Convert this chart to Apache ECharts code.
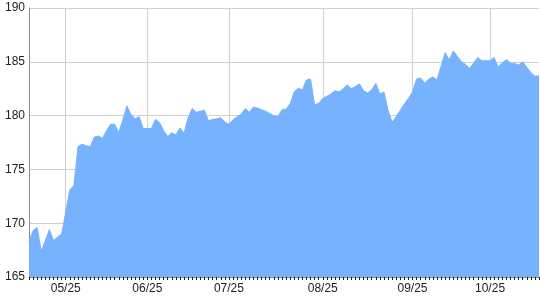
<!DOCTYPE html>
<html>
<head>
<meta charset="utf-8">
<script src="https://cdn.jsdelivr.net/npm/echarts@6/dist/echarts.min.js"></script>
<style>
html,body{margin:0;padding:0;background:#fff;}
#chart{width:540px;height:300px;}
</style>
</head>
<body>
<div id="chart"></div>
<script>
var dates = [
  "2025-04-17","2025-04-21","2025-04-22","2025-04-23","2025-04-24","2025-04-25","2025-04-28","2025-04-29","2025-04-30",
  "2025-05-01","2025-05-02","2025-05-05","2025-05-06","2025-05-07","2025-05-08","2025-05-09","2025-05-12","2025-05-13","2025-05-14",
  "2025-05-15","2025-05-16","2025-05-19","2025-05-20","2025-05-21","2025-05-22","2025-05-23","2025-05-27","2025-05-28","2025-05-29",
  "2025-06-02","2025-06-03","2025-06-04","2025-06-05","2025-06-06","2025-06-09","2025-06-10","2025-06-11","2025-06-12","2025-06-13",
  "2025-06-16","2025-06-17","2025-06-18","2025-06-20","2025-06-23","2025-06-24","2025-06-25","2025-06-26","2025-06-27","2025-06-30",
  "2025-07-01","2025-07-02","2025-07-03","2025-07-04","2025-07-07","2025-07-08","2025-07-09","2025-07-10","2025-07-11","2025-07-14",
  "2025-07-15","2025-07-16","2025-07-17","2025-07-18","2025-07-21","2025-07-22","2025-07-23","2025-07-24","2025-07-25","2025-07-28",
  "2025-07-29","2025-07-30","2025-07-31",
  "2025-08-01","2025-08-04","2025-08-05","2025-08-06","2025-08-07","2025-08-08","2025-08-11","2025-08-12","2025-08-13","2025-08-14",
  "2025-08-15","2025-08-18","2025-08-19","2025-08-20","2025-08-21","2025-08-22","2025-08-25","2025-08-26","2025-08-27","2025-08-28",
  "2025-08-29","2025-08-30",
  "2025-09-02","2025-09-03","2025-09-04","2025-09-05","2025-09-08","2025-09-09","2025-09-10","2025-09-11","2025-09-12","2025-09-15",
  "2025-09-16","2025-09-17","2025-09-18","2025-09-19","2025-09-22","2025-09-23","2025-09-24","2025-09-25","2025-09-26",
  "2025-10-01","2025-10-02","2025-10-03","2025-10-06","2025-10-07","2025-10-08","2025-10-09","2025-10-10","2025-10-13","2025-10-14",
  "2025-10-15","2025-10-16","2025-10-17"
];

var prices = [
  168.3,169.3,169.6,167.4,168.4,169.4,168.4,168.7,169.0,
  171.0,173.1,173.5,177.1,177.35,177.2,177.1,178.0,178.1,177.9,
  178.6,179.2,179.2,178.4,179.6,180.9,180.1,179.7,179.9,178.8,
  178.8,178.8,179.65,179.35,178.6,178.05,178.4,178.2,178.85,178.35,
  179.8,180.65,180.3,180.4,180.5,179.5,179.65,179.7,179.8,179.4,
  179.2,179.6,179.9,180.1,180.65,180.3,180.8,180.7,180.55,180.4,
  180.2,180.0,179.9,180.55,180.6,181.1,182.2,182.55,182.4,183.3,
  183.4,181.0,181.15,
  181.6,181.8,182.0,182.3,182.2,182.5,182.85,182.5,182.7,182.95,
  182.3,182.1,182.4,183.0,182.0,182.2,180.5,179.4,179.9,180.5,
  181.1,181.6,
  182.2,183.4,183.5,183.0,183.4,183.6,183.3,184.6,185.85,185.2,
  186.0,185.5,185.0,184.75,184.4,184.9,185.4,185.1,185.1,
  185.1,185.4,184.5,184.9,185.2,184.9,184.85,184.7,185.0,184.5,
  184.0,183.65,183.7
];

var yMin = 165, yMax = 190, yStep = 5;

function isMonthStart(index) {
  if (index === 0) return false;
  return dates[index].slice(5, 7) !== dates[index - 1].slice(5, 7);
}

var chart = echarts.init(document.getElementById('chart'), null, {renderer: 'canvas'});
chart.setOption({
  animation: false,
  backgroundColor: '#ffffff',
  grid: {left: 29, right: 1, top: 8, bottom: 23, containLabel: false},
  xAxis: {
    type: 'category',
    data: dates,
    boundaryGap: false,
    axisLine: {show: true, lineStyle: {color: '#8a8a8a', width: 1}},
    axisTick: {show: true, interval: 0, length: 3, lineStyle: {color: '#222', width: 1}},
    axisLabel: {
      interval: function (index) { return isMonthStart(index); },
      formatter: function (v) { return v.slice(5, 7) + '/' + v.slice(2, 4); },
      color: '#222', fontSize: 12, fontFamily: 'Liberation Sans, Arial, sans-serif', margin: 6
    },
    splitLine: {
      show: true,
      interval: function (index) { return isMonthStart(index); },
      lineStyle: {color: '#cfcfcf', width: 1}
    }
  },
  yAxis: {
    type: 'value',
    min: yMin, max: yMax, interval: yStep,
    axisLine: {show: true, lineStyle: {color: '#8a8a8a', width: 1}},
    axisTick: {show: false},
    axisLabel: {color: '#222', fontSize: 12, fontFamily: 'Liberation Sans, Arial, sans-serif', margin: 4},
    splitLine: {show: true, lineStyle: {color: '#cfcfcf', width: 1}}
  },
  series: [{
    type: 'line',
    data: prices,
    showSymbol: false,
    symbol: 'none',
    lineStyle: {color: '#77b2ff', width: 1},
    areaStyle: {color: '#77b2ff', opacity: 1}
  }]
});
</script>
</body>
</html>
